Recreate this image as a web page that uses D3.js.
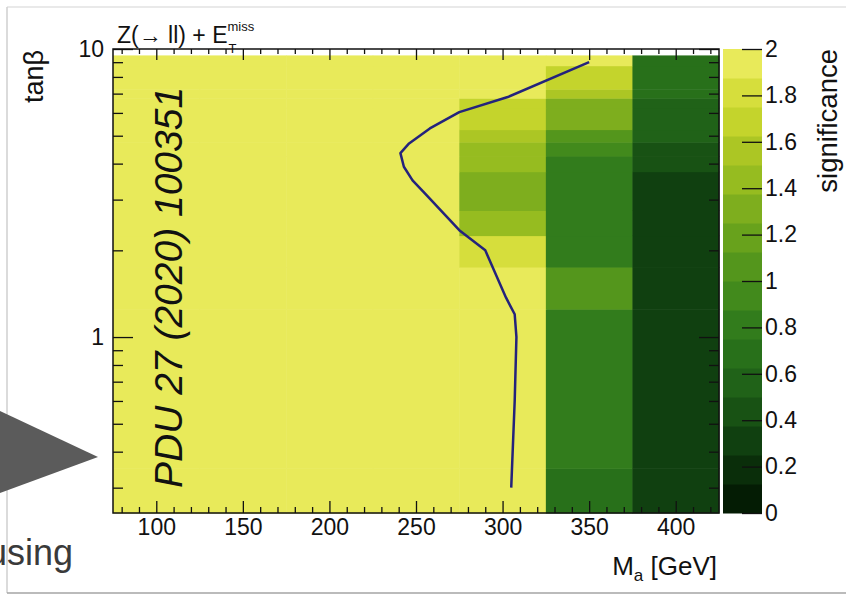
<!DOCTYPE html>
<html>
<head>
<meta charset="utf-8">
<script src="https://cdn.jsdelivr.net/npm/d3@7"></script>
<style>
  body { margin: 0; background: #fff; }
  svg { display: block; font-family: "Liberation Sans", Arial, Helvetica, sans-serif; }
  .tick text { font-size: 23px; fill: #111; }
</style>
</head>
<body>
<svg width="846" height="595"></svg>
<script>
const svg = d3.select('svg');

// Ma bin centres (GeV), each bin 50 GeV wide
const maCenters = [100, 150, 200, 250, 300, 350, 400];
const maBinWidth = 50;

// tan(beta) bin edges, low to high
const tanbEdges = [0.245, 0.35, 1.25, 1.75, 2.25, 2.75, 3.75, 4.25, 4.75, 5.25, 6.25, 6.75, 7.25, 8.75, 9.5];

// significance per tan(beta) row (low to high), columns follow maCenters
const significance = [
  [2, 2, 2, 2, 2,    0.72, 0.3],
  [2, 2, 2, 2, 2,    0.82, 0.3],
  [2, 2, 2, 2, 2,    1.02, 0.3],
  [2, 2, 2, 2, 1.8,  0.78, 0.3],
  [2, 2, 2, 2, 1.42, 0.78, 0.3],
  [2, 2, 2, 2, 1.3,  0.78, 0.3],
  [2, 2, 2, 2, 1.4,  0.8,  0.45],
  [2, 2, 2, 2, 1.4,  0.92, 0.45],
  [2, 2, 2, 2, 1.5,  1.0,  0.6],
  [2, 2, 2, 2, 1.7,  1.3,  0.6],
  [2, 2, 2, 2, 1.7,  1.3,  0.6],
  [2, 2, 2, 2, 2,    1.55, 0.72],
  [2, 2, 2, 2, 2,    1.7,  0.72],
  [2, 2, 2, 2, 2,    2,    0.72]
];

// contour (blue line)
const contourMa   = [305, 307, 308, 307, 302, 290, 275, 255, 248, 243, 241, 246, 258, 275, 303, 350];
const contourTanb = [0.30, 0.6, 1.0, 1.2, 1.37, 2.0, 2.35, 3.16, 3.5, 3.9, 4.35, 4.7, 5.3, 6.04, 6.81, 9.0];

// colour bands of the palette, 0 -> 2 in 16 steps
const palette = ['#041c04', '#0a2e0a', '#104010', '#185214', '#206218', '#28701a', '#327c1c', '#428a1c',
                 '#54961c', '#68a21c', '#7eae1e', '#96bc20', '#acc624', '#c4d42c', '#d6de3c', '#e8ea5a'];

const xTicks = [100, 150, 200, 250, 300, 350, 400];
const yTicks = [1, 10];
const zTicks = [0, 0.2, 0.4, 0.6, 0.8, 1, 1.2, 1.4, 1.6, 1.8, 2];

const plot = {left: 113, right: 719, top: 49, bottom: 513};
const bar = {left: 723, right: 762};

// ---- slide decoration ----
svg.append('line').attr('x1', 7).attr('x2', 846).attr('y1', 7).attr('y2', 7)
  .attr('stroke', '#e2e2e2').attr('stroke-width', 1.5);
svg.append('line').attr('x1', 7).attr('x2', 7).attr('y1', 7).attr('y2', 593)
  .attr('stroke', '#cfcfcf').attr('stroke-width', 1.5);
svg.append('line').attr('x1', 7).attr('x2', 846).attr('y1', 593).attr('y2', 593)
  .attr('stroke', '#a5a5a5').attr('stroke-width', 1.5);

svg.append('path')
  .attr('d', 'M0,411 L98,457 L0,493 Z')
  .attr('fill', '#5b5b5b');

svg.append('text')
  .attr('x', -13).attr('y', 565)
  .attr('font-size', 36)
  .attr('fill', '#3a3a3a')
  .text('using');

// ---- scales ----
const xScale = d3.scaleLinear().domain([75, 425]).range([plot.left, plot.right]);
const yScale = d3.scaleLog().domain([0.245, 10]).range([plot.bottom, plot.top]);
const zScale = d3.scaleLinear().domain([0, 2]).range([plot.bottom, plot.top]);
const colour = d3.scaleQuantize().domain([0, 2]).range(palette);

// ---- heat map ----
const cells = [];
significance.forEach((row, i) => {
  row.forEach((v, j) => {
    cells.push({ma: maCenters[j], lo: tanbEdges[i], hi: tanbEdges[i + 1], v});
  });
});

svg.append('g').selectAll('rect').data(cells).join('rect')
  .attr('x', d => xScale(d.ma - maBinWidth / 2))
  .attr('width', d => xScale(d.ma + maBinWidth / 2) - xScale(d.ma - maBinWidth / 2) + 0.5)
  .attr('y', d => yScale(d.hi))
  .attr('height', d => yScale(d.lo) - yScale(d.hi) + 0.5)
  .attr('fill', d => colour(Math.min(d.v, 1.9999)));

// contour line
const contour = contourMa.map((m, i) => ({m, t: contourTanb[i]}));
svg.append('path')
  .attr('d', d3.line().x(d => xScale(d.m)).y(d => yScale(d.t))(contour))
  .attr('fill', 'none')
  .attr('stroke', '#24237c')
  .attr('stroke-width', 2.5)
  .attr('stroke-linejoin', 'round');

// ---- axes ----
const xMinor = d3.range(80, 421, 10).filter(v => v % 50 !== 0);
const yMinor = [0.3, 0.4, 0.5, 0.6, 0.7, 0.8, 0.9, 2, 3, 4, 5, 6, 7, 8, 9];

function clean(g) {
  g.select('.domain').remove();
  g.selectAll('line').attr('stroke', '#111').attr('stroke-width', 1.3);
}

svg.append('g').attr('transform', `translate(0,${plot.bottom})`)
  .call(d3.axisBottom(xScale).tickValues(xTicks).tickSizeInner(-12).tickSizeOuter(0).tickPadding(6))
  .call(clean);
svg.append('g').attr('transform', `translate(0,${plot.bottom})`)
  .call(d3.axisBottom(xScale).tickValues(xMinor).tickSizeInner(-6).tickSizeOuter(0).tickFormat(''))
  .call(clean);
svg.append('g').attr('transform', `translate(0,${plot.top})`)
  .call(d3.axisTop(xScale).tickValues(xTicks).tickSizeInner(-11).tickSizeOuter(0).tickFormat(''))
  .call(clean);
svg.append('g').attr('transform', `translate(0,${plot.top})`)
  .call(d3.axisTop(xScale).tickValues(xMinor).tickSizeInner(-5).tickSizeOuter(0).tickFormat(''))
  .call(clean);

svg.append('g').attr('transform', `translate(${plot.left},0)`)
  .call(d3.axisLeft(yScale).tickValues(yTicks).tickSizeInner(-20).tickSizeOuter(0).tickPadding(9).tickFormat(d3.format('d')))
  .call(clean);
svg.append('g').attr('transform', `translate(${plot.left},0)`)
  .call(d3.axisLeft(yScale).tickValues(yMinor).tickSizeInner(-10).tickSizeOuter(0).tickFormat(''))
  .call(clean);
svg.append('g').attr('transform', `translate(${plot.right},0)`)
  .call(d3.axisRight(yScale).tickValues(yTicks).tickSizeInner(-20).tickSizeOuter(0).tickFormat(''))
  .call(clean);
svg.append('g').attr('transform', `translate(${plot.right},0)`)
  .call(d3.axisRight(yScale).tickValues(yMinor).tickSizeInner(-10).tickSizeOuter(0).tickFormat(''))
  .call(clean);

// frame
svg.append('rect')
  .attr('x', plot.left).attr('y', plot.top)
  .attr('width', plot.right - plot.left).attr('height', plot.bottom - plot.top)
  .attr('fill', 'none').attr('stroke', '#111').attr('stroke-width', 1.5);

// ---- colour bar ----
const bands = palette.map((c, i) => ({lo: i * 2 / palette.length, hi: (i + 1) * 2 / palette.length, c}));
svg.append('g').selectAll('rect').data(bands).join('rect')
  .attr('x', bar.left)
  .attr('width', bar.right - bar.left)
  .attr('y', d => zScale(d.hi))
  .attr('height', d => zScale(d.lo) - zScale(d.hi) + 0.5)
  .attr('fill', d => d.c);

svg.append('g').attr('transform', `translate(${bar.right},0)`)
  .call(d3.axisRight(zScale).tickValues(zTicks).tickSizeInner(-20).tickSizeOuter(0).tickPadding(3).tickFormat(d3.format('~g')))
  .call(clean);

// ---- titles ----
svg.append('text')
  .attr('transform', 'translate(43,50) rotate(-90)')
  .attr('text-anchor', 'end')
  .attr('font-size', 27)
  .attr('fill', '#111')
  .text('tanβ');

svg.append('text')
  .attr('transform', 'translate(837,49) rotate(-90)')
  .attr('text-anchor', 'end')
  .attr('font-size', 27.5)
  .attr('fill', '#111')
  .text('significance');

const xt = svg.append('text')
  .attr('x', 717).attr('y', 575)
  .attr('text-anchor', 'end')
  .attr('font-size', 26)
  .attr('fill', '#111');
xt.append('tspan').text('M');
xt.append('tspan').attr('font-size', 17).attr('dy', 6).text('a');
xt.append('tspan').attr('dy', -6).text(' [GeV]');

// channel label, E_T^miss built from tspans inside one text
const title = svg.append('text')
  .attr('x', 117).attr('y', 43)
  .attr('font-size', 23)
  .attr('fill', '#111');
const mainSpan = title.append('tspan').text('Z(→ ll) + E');
const tw = mainSpan.node().getComputedTextLength();
title.append('tspan').attr('font-size', 13).attr('dy', -12).text('miss');
title.append('tspan').attr('font-size', 13).attr('x', 117 + tw + 1).attr('dy', 22).text('T');

svg.append('text')
  .attr('transform', 'translate(182,488) rotate(-90)')
  .attr('font-size', 39)
  .attr('font-style', 'italic')
  .attr('fill', '#111')
  .text('PDU 27 (2020) 100351');
</script>
</body>
</html>
